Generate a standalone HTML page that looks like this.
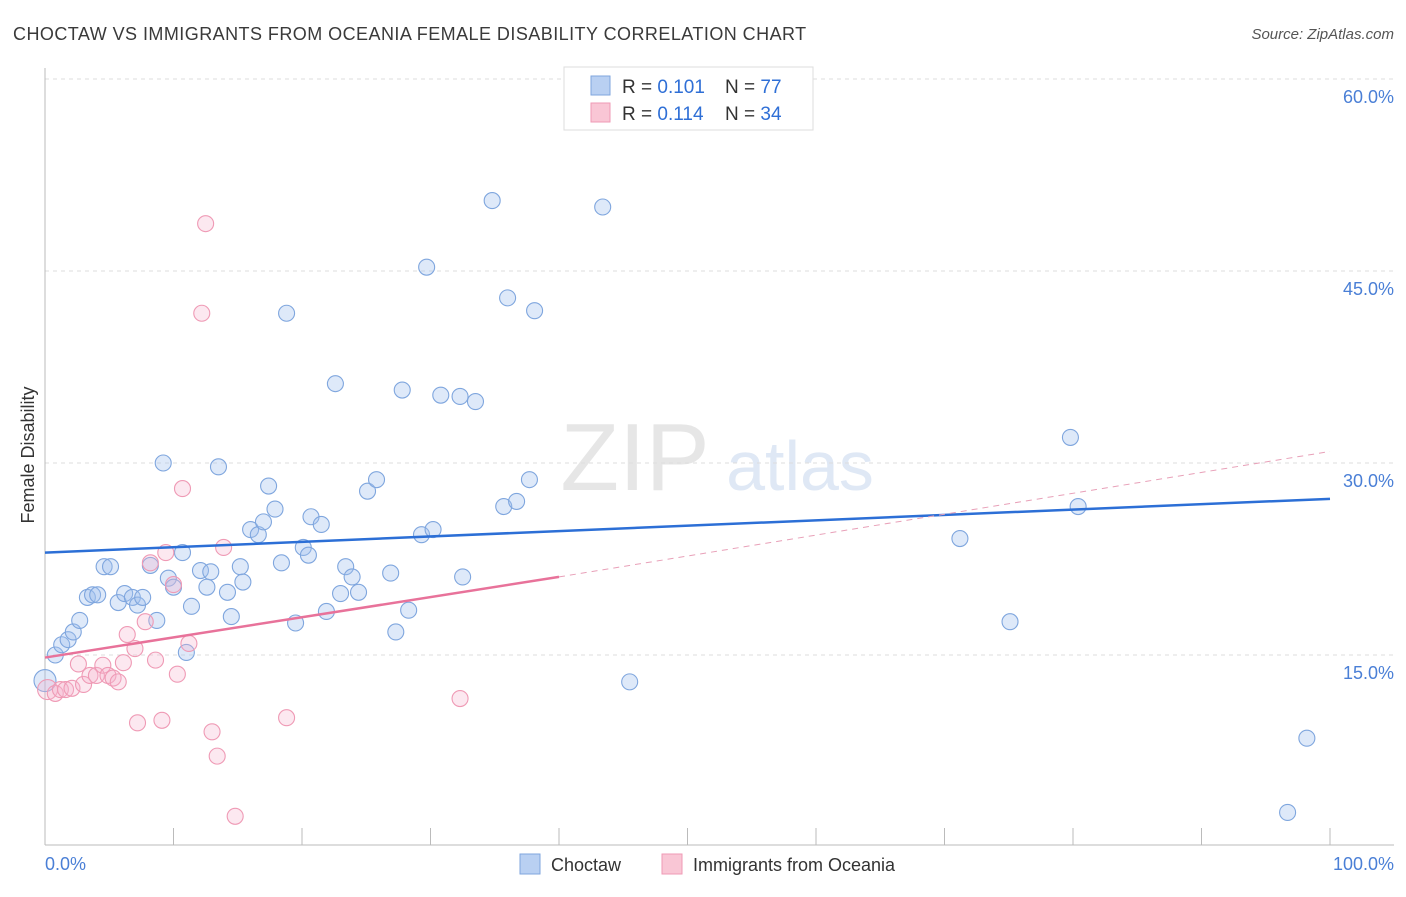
<!DOCTYPE html>
<html><head><meta charset="utf-8"><style>
body{margin:0;background:#fff;font-family:"Liberation Sans",sans-serif}
svg text{font-family:"Liberation Sans",sans-serif}
</style></head><body>
<svg id="c" width="1406" height="892">
<text x="13" y="40" font-size="18" fill="#3a3a3a" letter-spacing="0.45">CHOCTAW VS IMMIGRANTS FROM OCEANIA FEMALE DISABILITY CORRELATION CHART</text>
<text x="1394" y="39" font-size="15" fill="#555" text-anchor="end" font-style="italic">Source: ZipAtlas.com</text>
<text x="635" y="490" font-size="96" fill="#e6e6e6" font-family="Liberation Serif" text-anchor="middle">ZIP</text>
<text x="800" y="490" font-size="70" fill="#dfe8f5" text-anchor="middle">atlas</text>
<g id="grid"></g><g id="axes"></g><g id="pts"></g><g id="lines"></g>
<text transform="translate(34,455) rotate(-90)" font-size="18" fill="#333" text-anchor="middle">Female Disability</text>
<text x="45" y="870" font-size="18" fill="#4a7fd6">0.0%</text>
<text x="1394" y="870" font-size="18" fill="#4a7fd6" text-anchor="end">100.0%</text>
<g>
<rect x="564" y="67" width="249" height="63" fill="#fff" stroke="#ddd"/>
<rect x="591" y="76" width="19" height="19" fill="#b9d0f2" stroke="#7fa6de"/>
<rect x="591" y="103" width="19" height="19" fill="#f9c6d5" stroke="#ef9ab5"/>
<text x="622" y="93" font-size="19" fill="#333">R = <tspan fill="#2f6fd6">0.101</tspan></text>
<text x="725" y="93" font-size="19" fill="#333">N = <tspan fill="#2f6fd6">77</tspan></text>
<text x="622" y="120" font-size="19" fill="#333">R = <tspan fill="#2f6fd6">0.114</tspan></text>
<text x="725" y="120" font-size="19" fill="#333">N = <tspan fill="#2f6fd6">34</tspan></text>
</g>
<g>
<rect x="520" y="854" width="20" height="20" fill="#b9d0f2" stroke="#7fa6de"/>
<text x="551" y="871" font-size="18" fill="#333">Choctaw</text>
<rect x="662" y="854" width="20" height="20" fill="#f9c6d5" stroke="#ef9ab5"/>
<text x="693" y="871" font-size="18" fill="#333">Immigrants from Oceania</text>
</g>
</svg>
<script>
const yTicks=[15,30,45,60];
const yTickLabels=["15.0%","30.0%","45.0%","60.0%"];
const xTicks=[0,10,20,30,40,50,60,70,80,90,100];
const blueX=[0,0.8,1.3,1.8,2.2,2.7,3.3,3.7,4.1,4.6,5.1,5.7,6.2,6.8,7.2,7.6,8.2,8.7,9.2,9.6,10.0,10.7,11.0,11.4,12.1,12.6,12.9,13.5,14.2,14.5,15.2,15.4,16.0,16.6,17.0,17.4,17.9,18.4,18.8,19.5,20.1,20.5,20.7,21.5,21.9,22.6,23.0,23.4,23.9,24.4,25.1,25.8,26.9,27.3,27.8,28.3,29.3,29.7,30.2,30.8,32.3,32.5,33.5,34.8,35.7,36.0,36.7,37.7,38.1,43.4,45.5,71.2,75.1,79.8,80.4,98.2,96.7];
const blueY=[13.0,15.0,15.8,16.2,16.8,17.7,19.5,19.7,19.7,21.9,21.9,19.1,19.8,19.5,18.9,19.5,22.0,17.7,30.0,21.0,20.3,23.0,15.2,18.8,21.6,20.3,21.5,29.7,19.9,18.0,21.9,20.7,24.8,24.4,25.4,28.2,26.4,22.2,41.7,17.5,23.4,22.8,25.8,25.2,18.4,36.2,19.8,21.9,21.1,19.9,27.8,28.7,21.4,16.8,35.7,18.5,24.4,45.3,24.8,35.3,35.2,21.1,34.8,50.5,26.6,42.9,27.0,28.7,41.9,50.0,12.9,24.1,17.6,32.0,26.6,8.5,2.7];
const pinkX=[0.2,0.8,1.2,1.6,2.1,2.6,3.0,3.5,4.0,4.5,4.9,5.3,5.7,6.1,6.4,7.0,7.2,7.8,8.2,8.6,9.1,9.4,10.0,10.3,10.7,11.2,12.2,12.5,13.0,13.4,13.9,14.8,18.8,32.3];
const pinkY=[12.3,12.0,12.3,12.3,12.4,14.3,12.7,13.4,13.4,14.2,13.4,13.2,12.9,14.4,16.6,15.5,9.7,17.6,22.2,14.6,9.9,23.0,20.5,13.5,28.0,15.9,41.7,48.7,9.0,7.1,23.4,2.4,10.1,11.6];
const blueTrend=[23.0,27.2];
const pinkTrend=[14.8,21.1,30.9];
const X=v=>45+v*12.85, Y=v=>847-v*12.8;
const NS="http://www.w3.org/2000/svg";
function mk(t,a,p){const e=document.createElementNS(NS,t);for(const k in a)e.setAttribute(k,a[k]);p.appendChild(e);return e;}
const grid=document.getElementById('grid'),axes=document.getElementById('axes'),pts=document.getElementById('pts'),lines=document.getElementById('lines');
yTicks.forEach((t,i)=>{
 const l=mk('line',{x1:45,x2:1394,y1:Y(t),y2:Y(t),stroke:'#ddd','stroke-dasharray':'4,4'},grid);
 
 
 const tx=mk('text',{x:1394,y:Y(t)+24,'font-size':18,fill:'#4a7fd6','text-anchor':'end'},grid);
 tx.textContent=yTickLabels[i];
 
 
});
const ax=mk('line',{x1:45,x2:1394,y1:845,y2:845,stroke:'#bbb'},axes);


const ay=mk('line',{x1:45,x2:45,y1:68,y2:845,stroke:'#bbb'},axes);


xTicks.forEach(t=>{
 const l=mk('line',{x1:X(t),x2:X(t),y1:828,y2:845,stroke:'#bbb'},axes);
 
 
});
blueX.forEach((v,i)=>{
 const c=mk('circle',{cx:X(v),cy:Y(blueY[i]),r:i==0?11:8,fill:'rgba(160,192,238,0.35)',stroke:'#7fa6de','stroke-width':1.1},pts);
 
 
});
pinkX.forEach((v,i)=>{
 const c=mk('circle',{cx:X(v),cy:Y(pinkY[i]),r:i==0?10:8,fill:'rgba(245,180,204,0.3)',stroke:'#ef9ab5','stroke-width':1.1},pts);
 
 
});
const bl=mk('line',{x1:X(0),x2:X(100),y1:Y(blueTrend[0]),y2:Y(blueTrend[1]),stroke:'#2c6fd6','stroke-width':2.5},lines);


const pl=mk('line',{x1:X(0),x2:X(40),y1:Y(pinkTrend[0]),y2:Y(pinkTrend[1]),stroke:'#e8729a','stroke-width':2.5},lines);


const pd=mk('line',{x1:X(40),x2:X(100),y1:Y(pinkTrend[1]),y2:Y(pinkTrend[2]),stroke:'#e8a0b8','stroke-width':1,'stroke-dasharray':'6,5'},lines);


</script>
</body></html>
